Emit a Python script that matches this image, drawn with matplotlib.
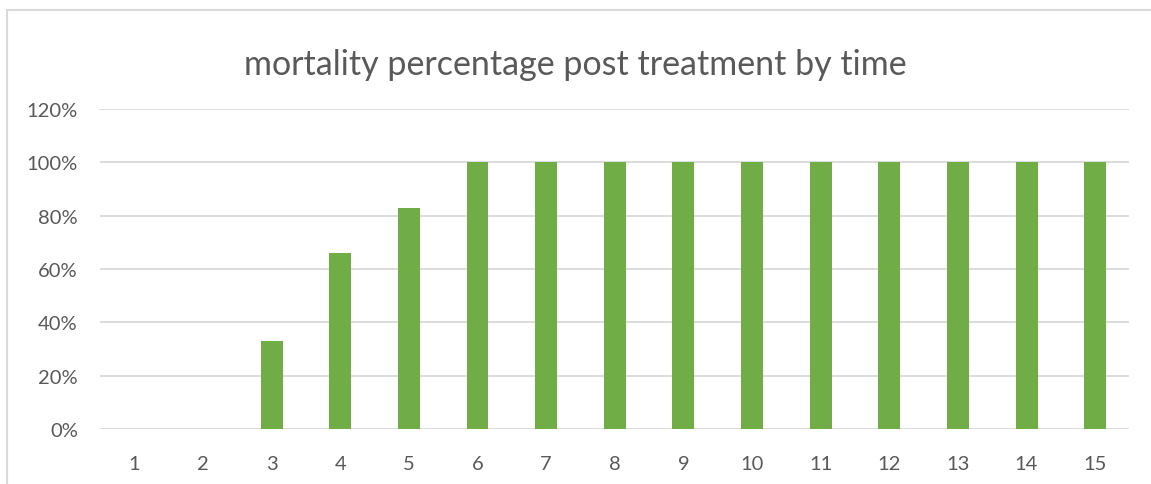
import numpy as np
import matplotlib.pyplot as plt
from matplotlib.patches import Rectangle

# time points and mortality (fraction)
time = list(range(1, 16))
mortality = [0, 0, 0.33, 0.66, 0.83, 1, 1, 1, 1, 1, 1, 1, 1, 1, 1]

plt.rcParams['font.family'] = ['Lato', 'DejaVu Sans']

fig = plt.figure(figsize=(11.51, 4.85), dpi=100)
ax = fig.add_axes([0.0869, 0.1134, 0.8944, 0.6598])

# chart frame, cut off at right and bottom like the screenshot
fig.patches.append(Rectangle((7 / 1151, -0.1), 1.2, 1 - 11 / 485 + 0.1,
                             transform=fig.transFigure, fill=False,
                             edgecolor='#d9d9d9', linewidth=1.5))

x = np.arange(len(time))
ax.bar(x, mortality, width=0.32, color='#70ad47', zorder=3)

ax.set_xlim(-0.5, len(time) - 0.5)
ax.set_ylim(0, 1.2)
ax.set_yticks(np.arange(0, 1.21, 0.2))
ax.set_yticklabels([f'{int(round(v * 100))}%' for v in np.arange(0, 1.21, 0.2)])
ax.set_xticks(x)
ax.set_xticklabels([str(t) for t in time])
ax.yaxis.grid(True, color='#d9d9d9', linewidth=1.3, zorder=0)
ax.tick_params(axis='both', length=0, labelsize=14.5, colors='#595959')
ax.tick_params(axis='x', pad=19)
ax.tick_params(axis='y', pad=16)
for s in ax.spines.values():
    s.set_visible(False)

fig.text(0.5, 1 - 65 / 485, 'mortality percentage post treatment by time',
         ha='center', va='center', fontsize=24.5, color='#595959')

fig.savefig('out.png', dpi=100)
